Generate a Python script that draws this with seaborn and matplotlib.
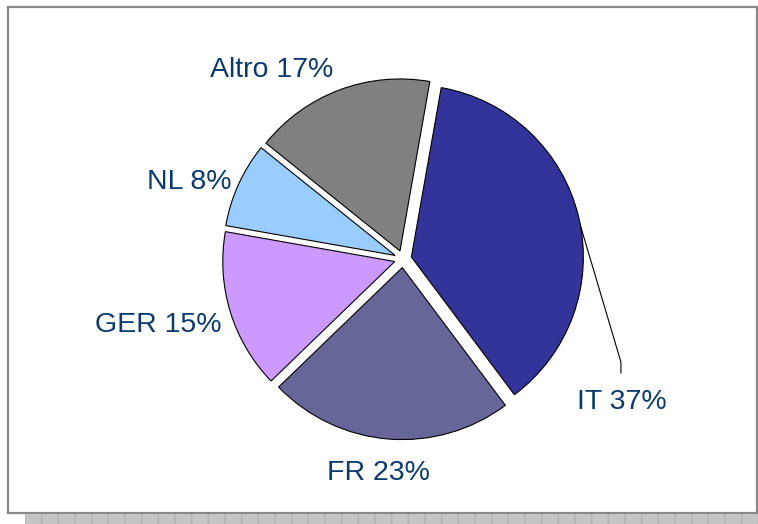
import matplotlib
matplotlib.use("Agg")
import matplotlib.pyplot as plt
from matplotlib.patches import Rectangle
import seaborn as sns
import numpy as np

# ---- data ----
categories = ["IT", "FR", "GER", "NL", "Altro"]
shares = [37, 23, 15, 8, 17]
colors = ["#333399", "#666699", "#CC99FF", "#99CCFF", "#808080"]

# ---- layout (label positions, in pie-radius units) ----
label_pos = {
    "IT": (1.273, -0.831),
    "FR": (-0.145, -1.244),
    "GER": (-1.424, -0.385),
    "NL": (-1.244, 0.448),
    "Altro": (-0.762, 1.099),
}

sns.set_theme(style="white")
plt.rcParams["font.family"] = ["Liberation Sans", "DejaVu Sans"]

W, H = 758, 524
fig = plt.figure(figsize=(W / 100, H / 100), dpi=100)
fig.patch.set_facecolor("white")

# frame and bottom strip (figure pixels)
fig.patches.append(Rectangle((8 / W, (H - 513) / H), (757 - 8) / W, (513 - 7) / H,
                             transform=fig.transFigure, fill=False,
                             edgecolor="#888888", linewidth=1.6, zorder=0))
fig.patches.append(Rectangle((25 / W, 0), (W - 25) / W, 10 / H,
                             transform=fig.transFigure, facecolor="#c4c4c4",
                             edgecolor="#b0b0b0", hatch="|", linewidth=0, zorder=0))

ax = fig.add_axes([0, 0, 1, 1])
ax.set_facecolor("none")

cx, cy, R = 403, 259, 172
wedges, _ = ax.pie(shares, colors=colors, startangle=80, counterclock=False,
                   explode=[0.05] * len(shares),
                   wedgeprops=dict(edgecolor="black", linewidth=0.8))

ax.set_xlim((0 - cx) / R, (W - cx) / R)
ax.set_ylim((cy - H) / R, cy / R)
ax.set_aspect("equal")
ax.axis("off")

total = sum(shares)
for cat, val in zip(categories, shares):
    x, y = label_pos[cat]
    ax.text(x, y, f"{cat} {round(val / total * 100)}%", ha="center", va="center",
            fontsize=20.5, color="#0B3A6E")

# leader line for IT
w = wedges[0]
mid = np.deg2rad((w.theta1 + w.theta2) / 2 - 3)
sx = w.center[0] + w.r * np.cos(mid)
sy = w.center[1] + w.r * np.sin(mid)
lx, ly = label_pos["IT"]
ax.plot([sx, lx - 0.006, lx - 0.006], [sy, -0.599, -0.663], color="black", linewidth=0.8)

fig.savefig("out.png", dpi=100)
